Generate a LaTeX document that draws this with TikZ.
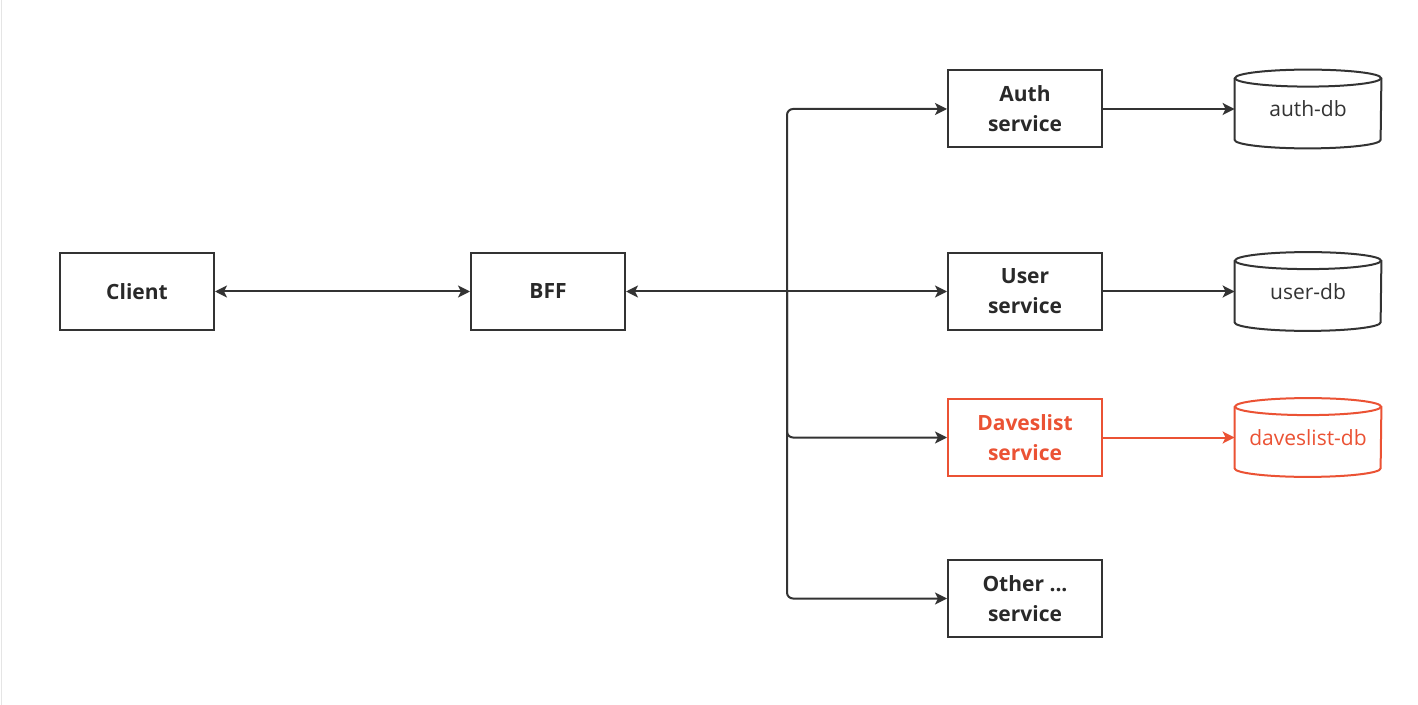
\documentclass[tikz,border=0pt]{standalone}
\usepackage{fontspec}
\setmainfont{Open Sans}
\usetikzlibrary{arrows.meta}
\definecolor{ink}{HTML}{333333}
\definecolor{hl}{HTML}{EB5234}
\tikzset{
  px/.style={x=0.5pt,y=-0.5pt},
  svc/.style={draw=ink,line width=1pt,minimum width=77pt,minimum height=38.5pt,inner sep=0pt,align=center,font=\fontsize{10.5}{15}\selectfont\bfseries,text=ink!80!black},
  dbnode/.style={minimum width=73pt,minimum height=39pt,inner sep=0pt,font=\fontsize{10.5}{15}\selectfont,text=ink},
  link/.style={draw=ink,line width=1pt,-{Stealth[length=6pt,width=6pt,inset=1.5pt]}},
  cyl/.style={draw=ink,line width=1pt},
}
\newcommand{\dbcyl}[2]{%
  \draw[cyl,#2] ([yshift=-4.25pt]#1.north west) -- ([yshift=4.25pt]#1.south west)
    arc[start angle=180,end angle=360,x radius=36.5pt,y radius=4.25pt]
    -- ([yshift=-4.25pt]#1.north east);
  \draw[cyl,#2] ([yshift=-4.25pt]#1.north) ellipse[x radius=36.5pt,y radius=4.25pt];
}
\begin{document}
\begin{tikzpicture}[px]
\useasboundingbox[fill=white] (0,0) rectangle (1418,705);
\draw[gray!20,line width=0.5pt] (1.5,0) -- (1.5,705);
\node[svc] (client) at (137,291.5) {Client};
\node[svc] (bff) at (548,291.5) {BFF};
\node[svc] (auth) at (1025,109) {Auth\\service};
\node[svc] (user) at (1025,291.5) {User\\service};
\node[svc,draw=hl,text=hl] (daves) at (1025,437.5) {Daveslist\\service};
\node[svc] (other) at (1025,598.5) {Other ...\\service};
\node[dbnode] (authdb) at (1308,109) {auth-db};
\node[dbnode] (userdb) at (1308,291.5) {user-db};
\node[dbnode,text=hl] (davesdb) at (1308,437.5) {daveslist-db};
\dbcyl{authdb}{}
\dbcyl{userdb}{}
\dbcyl{davesdb}{draw=hl}
\coordinate (j) at (787,291.5);
\draw[link,{Stealth[length=6pt,width=6pt,inset=1.5pt]}-{Stealth[length=6pt,width=6pt,inset=1.5pt]}] (client.east) -- (bff.west);
\draw[link] (j) -- (bff.east);
\draw[link] (j) -- (user.west);
\draw[link,rounded corners=3pt] (j) |- (auth.west);
\draw[link,rounded corners=3pt] (j) |- (daves.west);
\draw[link,rounded corners=3pt] (j) |- (other.west);
\draw[link] (auth.east) -- (authdb.west);
\draw[link] (user.east) -- (userdb.west);
\draw[link,draw=hl,fill=hl] (daves.east) -- (davesdb.west);
\end{tikzpicture}
\end{document}
